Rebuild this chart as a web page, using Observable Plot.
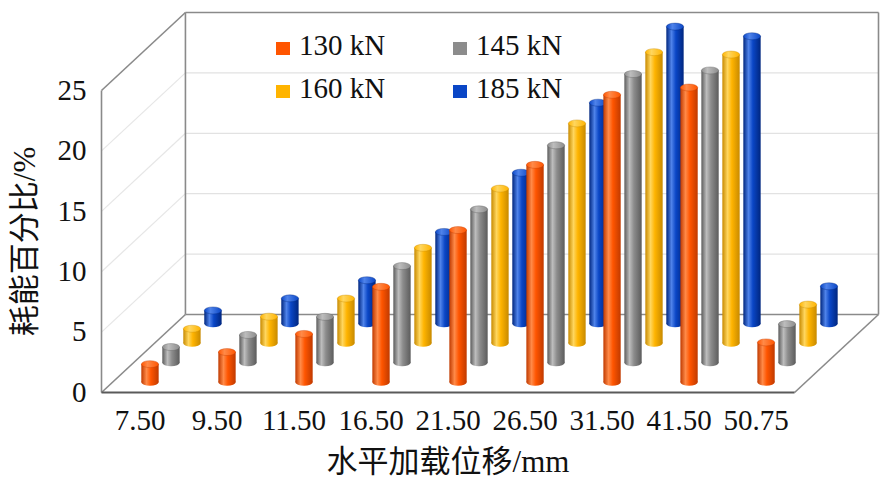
<!DOCTYPE html>
<html><head><meta charset="utf-8">
<script src="https://cdn.jsdelivr.net/npm/d3@7"></script>
<script src="https://cdn.jsdelivr.net/npm/@observablehq/plot@0.6"></script>
<style>
body{margin:0;background:#fff;}
#wrap{position:relative;width:887px;height:488px;}
#wrap svg{display:block;}
.lg{position:absolute;font-family:"Liberation Serif","Times New Roman",serif;font-size:29px;line-height:29px;white-space:nowrap;color:#111;}
.sw{position:absolute;width:14px;height:13px;}
</style></head><body>
<svg width="0" height="0" style="position:absolute"><defs id="defs"></defs></svg>
<div id="wrap"></div>
<script>
// ---- data ----
const categories = ["7.50","9.50","11.50","16.50","21.50","26.50","31.50","41.50","50.75"];
const series = ["130 kN","145 kN","160 kN","185 kN"];
const v130 = [1.5, 2.5, 4.0, 7.9, 12.6, 18.0, 23.8, 24.4, 3.3];
const v145 = [1.3, 2.3, 3.8, 8.0, 12.7, 18.0, 23.9, 24.2, 3.2];
const v160 = [1.2, 2.2, 3.7, 7.9, 12.8, 18.2, 24.1, 23.9, 3.2];
const v185 = [1.1, 2.1, 3.6, 7.6, 12.5, 18.3, 24.6, 23.8, 3.1];
const yTicks = [0, 5, 10, 15, 20, 25];
const xTitle = "水平加载位移/mm";
const yTitle = "耗能百分比/%";

// ---- styles ----
const seriesColors = ["#FF5500", "#8C8C8C", "#FFB400", "#0A46C6"];
const seriesDark   = ["#C03A00", "#5C5C5C", "#C88A00", "#00267F"];
const seriesLight  = ["#FF8A48", "#BDBDBD", "#FFD65E", "#4F83EA"];
const latin = '"Liberation Serif","Times New Roman",serif';
const mixed = '"Liberation Serif","Noto Sans CJK SC",serif';

// gradients for cylinder shading
const defs = d3.select("#defs");
seriesColors.forEach((c, r) => {
  const g = defs.append("linearGradient").attr("id", "body" + r)
    .attr("x1", 0).attr("x2", 1).attr("y1", 0).attr("y2", 0);
  [[0, seriesDark[r]], [0.3, seriesLight[r]], [0.55, c], [1, seriesDark[r]]]
    .forEach(([o, col]) => g.append("stop").attr("offset", o).attr("stop-color", col));
  const t = defs.append("linearGradient").attr("id", "cap" + r)
    .attr("x1", 0).attr("x2", 1).attr("y1", 0).attr("y2", 0);
  [[0, c], [0.35, seriesLight[r]], [1, c]]
    .forEach(([o, col]) => t.append("stop").attr("offset", o).attr("stop-color", col));
});

// ---- geometry (oblique 3D projection) ----
const nCat = categories.length;
const nRow = series.length;
const yMax = yTicks[yTicks.length - 1];
const depthX = 1.09;   // depth shift in category units
const depthY = 6.46;   // depth shift in value units
const barW = 0.225;
const capR = 0.29;     // half height of the elliptical caps, value units

const valuesBySeries = [v130, v145, v160, v185];
const bars = [];
series.forEach((s, r) => categories.forEach((c, i) => {
  const v = valuesBySeries[r][i];
  const xc = i + 0.5 + depthX * (r + 0.5) / nRow;
  const yb = depthY * (r + 0.5) / nRow;
  bars.push({s, r, c, v, x1: xc - barW / 2, x2: xc + barW / 2, yb, yt: yb + v});
}));

const X1 = nCat + depthX, YT = yMax + depthY;
const frameLines = [
  {x1: 0, y1: 0, x2: 0, y2: yMax},
  {x1: 0, y1: 0, x2: depthX, y2: depthY},
  {x1: 0, y1: yMax, x2: depthX, y2: YT},
  {x1: nCat, y1: 0, x2: X1, y2: depthY},
  {x1: depthX, y1: depthY, x2: X1, y2: depthY},
  {x1: depthX, y1: depthY, x2: depthX, y2: YT},
  {x1: X1, y1: depthY, x2: X1, y2: YT},
  {x1: depthX, y1: YT, x2: X1, y2: YT}
];
const gridT = yTicks.filter(t => t > 0 && t < yMax);

const marks = [
  // gridlines on back wall and left wall
  Plot.link(gridT, {x1: depthX, x2: X1, y1: t => t + depthY, y2: t => t + depthY, stroke: "#e2e2e2", strokeWidth: 1.2}),
  Plot.link(gridT, {x1: 0, x2: depthX, y1: t => t, y2: t => t + depthY, stroke: "#e6e6e6", strokeWidth: 1.2}),
  Plot.link(frameLines, {x1: "x1", y1: "y1", x2: "x2", y2: "y2", stroke: "#8a8a8a", strokeWidth: 1.6}),
  Plot.link([{x1: 0, x2: nCat}], {x1: "x1", x2: "x2", y1: 0, y2: 0, stroke: "#5a5a5a", strokeWidth: 2.2})
];
for (let r = nRow - 1; r >= 0; r--) {
  const rowBars = bars.filter(d => d.r === r);
  marks.push(
    Plot.rect(rowBars, {x1: "x1", x2: "x2", y1: "yb", y2: "yt", fill: `url(#body${r})`}),
    Plot.rect(rowBars, {x1: "x1", x2: "x2", y1: d => d.yb - capR, y2: d => d.yb + capR, rx: 100, ry: 100, fill: `url(#body${r})`}),
    Plot.rect(rowBars, {x1: "x1", x2: "x2", y1: d => d.yt - capR, y2: d => d.yt + capR, rx: 100, ry: 100, fill: `url(#cap${r})`, stroke: seriesDark[r], strokeWidth: 0.6, strokeOpacity: 0.6})
  );
}
marks.push(
  Plot.text(yTicks, {x: 0, y: d => d, text: d => String(d), textAnchor: "end", dx: -15, fontSize: 29, fontFamily: latin, fill: "#111"}),
  Plot.text(categories, {x: (d, i) => i + 0.5, y: 0, dy: 28, text: d => d, fontSize: 29, fontFamily: latin, fill: "#111"}),
  Plot.text([xTitle], {x: nCat / 2, y: 0, dy: 70, text: d => d, fontSize: 31, fontFamily: mixed, fill: "#111"}),
  Plot.text([yTitle], {x: 0, y: yMax / 2, dx: -76, rotate: -90, text: d => d, fontSize: 31, fontFamily: mixed, fill: "#111"})
);

const chart = Plot.plot({
  width: 887, height: 488,
  marginLeft: 101, marginRight: 9, marginTop: 12, marginBottom: 96,
  x: {domain: [0, X1], axis: null},
  y: {domain: [0, YT], axis: null},
  style: {background: "white", overflow: "visible"},
  marks
});
const wrap = document.getElementById("wrap");
wrap.appendChild(chart);

// legend inside the plot area (2 x 2)
series.forEach((s, k) => {
  const col = k % 2, row = Math.floor(k / 2);
  const sw = document.createElement("div");
  sw.className = "sw";
  sw.style.left = (276 + 177 * col) + "px";
  sw.style.top = (42 + 43 * row) + "px";
  sw.style.background = seriesColors[k];
  wrap.appendChild(sw);
  const t = document.createElement("div");
  t.className = "lg";
  t.textContent = s;
  t.style.left = (299 + 177 * col) + "px";
  t.style.top = (31 + 43 * row) + "px";
  wrap.appendChild(t);
});
</script>
</body></html>
